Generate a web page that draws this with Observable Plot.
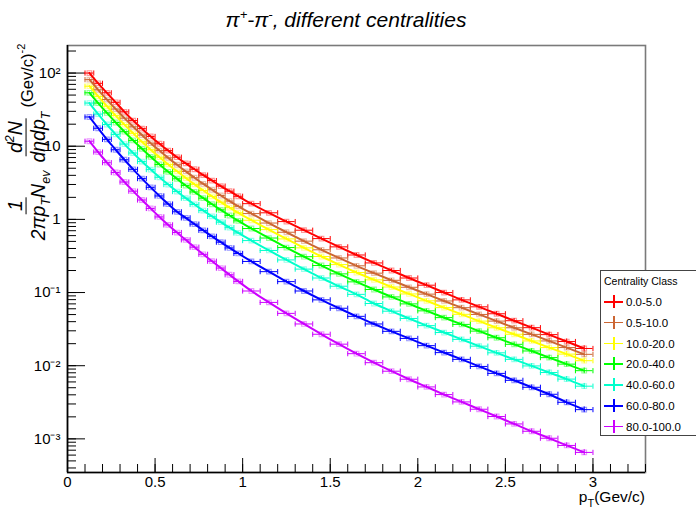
<!DOCTYPE html>
<html><head><meta charset="utf-8">
<script src="https://cdn.jsdelivr.net/npm/d3@7"></script>
<script src="https://cdn.jsdelivr.net/npm/@observablehq/plot@0.6"></script>
<style>
body{margin:0;background:#fff;font-family:"Liberation Sans",Arial,sans-serif;color:#000}
#wrap{position:relative;width:696px;height:515px;overflow:hidden;background:#fff}
#title{height:38px;text-align:center;font-style:italic;font-size:21px;line-height:40px;padding-right:4px;box-sizing:border-box}
#title sup{font-size:13px;vertical-align:8px;line-height:0}
#chart svg{display:block}
#ylabel{position:absolute;left:27px;top:144px;transform:translate(-50%,-50%) rotate(-90deg);white-space:nowrap;font-size:19.5px;font-style:italic}
.frac{display:inline-flex;flex-direction:column;align-items:center;vertical-align:middle;margin:0 1px}
.num{border-bottom:1.6px solid #000;padding:0 3px 1px 3px;line-height:1.05}
.den{padding:1px 3px 0 3px;line-height:1.1}
#ylabel sub{font-size:12.5px;vertical-align:-5px;line-height:0}
#ylabel sup{font-size:12.5px;vertical-align:8px;line-height:0}
.unit{font-style:normal;font-size:16.5px;vertical-align:middle}
.unit sup{font-size:11px!important}
#xlabel{position:absolute;right:51px;top:488px;font-size:15.5px;white-space:nowrap}
#xlabel sub{font-size:11px;vertical-align:-5px;line-height:0}
#legend{position:absolute;left:600px;top:270px;width:110px;height:166px;background:#fff;border:1px solid #444;box-sizing:border-box;font-size:11.5px}
#legend .lt{position:absolute;left:3px;top:4px;font-size:10.5px}
#legend .row{position:absolute;left:0;height:14px;width:100px}
#legend .h{position:absolute;left:3px;top:6px;width:19px;height:1.5px}
#legend .v{position:absolute;left:12px;top:0;width:1.5px;height:13px}
#legend .tx{position:absolute;left:25px;top:0px;line-height:14px}
</style></head><body>
<div id="wrap">
  <div id="title">π<sup>+</sup>-π<sup>-</sup>, different centralities</div>
  <div id="chart"></div>
  <div id="ylabel"><span class="frac"><span class="num">1</span><span class="den">2πp<sub>T</sub>N<sub>ev</sub></span></span><span class="frac"><span class="num">d<sup>2</sup>N</span><span class="den">dηdp<sub>T</sub></span></span><span class="unit">(Gev/c)<sup>-2</sup></span></div>
  <div id="xlabel">p<sub>T</sub>(Gev/c)</div>
  <div id="legend"><div class="lt">Centrality Class</div></div>
</div>
<script>
// ---- data ----
const pt = [0.125,0.175,0.225,0.275,0.325,0.375,0.425,0.475,0.525,0.575,0.625,0.675,0.725,0.775,0.825,0.875,0.925,0.975,
            1.05,1.15,1.25,1.35,1.45,1.55,1.65,1.75,1.85,1.95,2.05,2.15,2.25,2.35,2.45,2.55,2.65,2.75,2.85,2.95];
const ptHalfWidth = [0.025,0.025,0.025,0.025,0.025,0.025,0.025,0.025,0.025,0.025,0.025,0.025,0.025,0.025,0.025,0.025,0.025,0.025,
            0.05,0.05,0.05,0.05,0.05,0.05,0.05,0.05,0.05,0.05,0.05,0.05,0.05,0.05,0.05,0.05,0.05,0.05,0.05,0.05];
const relErr = [0.02,0.02,0.02,0.02,0.02,0.02,0.025,0.025,0.025,0.025,0.03,0.03,0.03,0.03,0.03,0.035,0.035,0.035,
            0.04,0.04,0.04,0.045,0.045,0.05,0.05,0.05,0.055,0.055,0.06,0.06,0.065,0.065,0.07,0.07,0.075,0.08,0.085,0.09];
const classes = ["0.0-5.0","0.5-10.0","10.0-20.0","20.0-40.0","40.0-60.0","60.0-80.0","80.0-100.0"];
const colors  = ["#ff0000","#cc6633","#ffff00","#00ff00","#00ffcc","#0000ff","#cc00ff"];
const yield_0_5 = [100,72.4,53.7,39.8,29.5,22.4,17.4,13.6,10.8,8.71,7.08,5.82,4.84,4.03,3.39,2.85,2.43,2.07,
  1.64,1.23,0.933,0.711,0.546,0.421,0.326,0.254,0.200,0.158,0.126,0.100,0.0794,0.0638,0.0513,0.0412,0.0331,0.0266,0.0214,0.0172];
const yield_5_10 = [81.3,59.0,43.4,32.2,24.2,18.4,14.2,11.0,8.71,6.93,5.58,4.53,3.71,3.05,2.54,2.12,1.78,1.51,
  1.20,0.891,0.667,0.504,0.384,0.297,0.232,0.184,0.147,0.118,0.0951,0.0767,0.0621,0.0502,0.0407,0.0330,0.0268,0.0218,0.0177,0.0143];
const yield_10_20 = [66.1,48.0,35.2,26.2,19.7,15.0,11.5,8.95,7.08,5.64,4.54,3.68,3.01,2.48,2.06,1.72,1.45,1.23,
  0.973,0.724,0.541,0.408,0.311,0.241,0.188,0.149,0.119,0.0957,0.0771,0.0622,0.0504,0.0407,0.0330,0.0269,0.0218,0.0177,0.0144,0.0117];
const yield_20_40 = [53.7,38.9,28.5,21.1,15.8,12.0,9.23,7.16,5.62,4.47,3.59,2.90,2.37,1.95,1.61,1.35,1.13,0.955,
  0.750,0.556,0.412,0.309,0.234,0.180,0.140,0.110,0.0871,0.0700,0.0562,0.0454,0.0367,0.0297,0.0241,0.0196,0.0159,0.0129,0.0105,0.00855];
const yield_40_60 = [38.9,27.5,19.8,14.5,10.7,8.07,6.17,4.79,3.76,2.99,2.40,1.95,1.60,1.32,1.10,0.916,0.771,0.652,
  0.513,0.376,0.279,0.209,0.158,0.122,0.0944,0.0708,0.0556,0.0442,0.0353,0.0284,0.0229,0.0185,0.0150,0.0122,0.00993,0.00807,0.00656,0.00525];
const yield_60_80 = [25.1,17.6,12.4,8.95,6.53,4.83,3.61,2.74,2.09,1.62,1.27,1.05,0.861,0.708,0.586,0.488,0.407,0.342,
  0.266,0.193,0.141,0.105,0.0794,0.0610,0.0473,0.0372,0.0295,0.0236,0.0188,0.0151,0.0122,0.00977,0.00785,0.00631,0.00507,0.00407,0.00316,0.00251];
const yield_80_100 = [11.7,8.32,5.96,4.37,3.24,2.43,1.84,1.41,1.08,0.841,0.661,0.525,0.417,0.333,0.268,0.216,0.175,0.142,
  0.105,0.0733,0.0519,0.0372,0.0269,0.0197,0.0146,0.0110,0.00841,0.00653,0.00513,0.00403,0.00320,0.00254,0.00202,0.00160,0.00127,0.00102,0.000813,0.000653];
const series = [yield_0_5,yield_5_10,yield_10_20,yield_20_40,yield_40_60,yield_60_80,yield_80_100];
const xMajor = [0,0.5,1,1.5,2,2.5,3];
const xMinor = d3.range(0,34).map(i=>i/10);
const yMajor = [100,10,1,0.1,0.01,0.001];
const yMajorLabel = {100:"10²",10:"10",1:"1",0.1:"10⁻¹",0.01:"10⁻²",0.001:"10⁻³"};
const yDomain = [3.47e-4, 238];
const xDomain = [0, 3.3];

// ---- build ----
const rows = [];
series.forEach((s,i)=>s.forEach((v,j)=>rows.push({
  cls: classes[i], pt: pt[j], lo: pt[j]-ptHalfWidth[j], hi: pt[j]+ptHalfWidth[j],
  y: v, ylo: v*(1-relErr[j]), yhi: v*(1+relErr[j])})));
const yMinor = [];
for (let e=-4; e<=2; e++) for (let m=1; m<=9; m++) { const v=m*Math.pow(10,e); if (v>=yDomain[0] && v<=yDomain[1]) yMinor.push(v); }

const W=696, H=477, mL=67, mR=51, mT=7, mB=43;
const iw = W-mL-mR, ih = H-mT-mB;
const cap = {draw(ctx, size){ const r=Math.sqrt(size/Math.PI); ctx.moveTo(0,-r); ctx.lineTo(0,r); }};

const plot = Plot.plot({
  width: W, height: H, marginLeft: mL, marginRight: mR, marginTop: mT, marginBottom: mB,
  style: {fontFamily: "Liberation Sans, Arial, sans-serif", fontSize: "15px", background: "white", overflow: "visible"},
  x: {domain: xDomain, ticks: xMajor, tickSize: 0, tickPadding: 4, tickFormat: d=>String(d), label: null},
  y: {type: "log", domain: yDomain, ticks: yMajor, tickSize: 0, tickPadding: 7, tickFormat: d=>yMajorLabel[d] ?? "", label: null},
  color: {domain: classes, range: colors},
  marks: [
    Plot.frame({stroke: "#7a7a7a", strokeWidth: 1.6}),
    Plot.tickX(xMinor, {x: d=>d, insetTop: ih-8, stroke: "black", strokeWidth: 1}),
    Plot.tickX(xMajor, {x: d=>d, insetTop: ih-14, stroke: "black", strokeWidth: 1}),
    Plot.tickY(yMinor, {y: d=>d, insetRight: iw-9, stroke: "black", strokeWidth: 1}),
    Plot.tickY(yMajor, {y: d=>d, insetRight: iw-18, stroke: "black", strokeWidth: 1}),
    Plot.ruleY(rows, {y: "y", x1: "lo", x2: "hi", stroke: "cls", strokeWidth: 1}),
    Plot.ruleX(rows, {x: "pt", y1: "ylo", y2: "yhi", stroke: "cls", strokeWidth: 1}),
    Plot.dot(rows, {x: "lo", y: "y", symbol: cap, r: 2.6, stroke: "cls", strokeWidth: 1}),
    Plot.dot(rows, {x: "hi", y: "y", symbol: cap, r: 2.6, stroke: "cls", strokeWidth: 1}),
    Plot.dot(rows, {x: "pt", y: "y", symbol: "square", r: 2.6, stroke: "cls", strokeOpacity: 0.4, strokeWidth: 1.2}),
    Plot.line(rows, {x: "pt", y: "y", z: "cls", stroke: "cls", strokeWidth: 2, curve: "monotone-x"}),
    Plot.ruleX([xDomain[0]], {stroke: "black", strokeWidth: 1.6}),
    Plot.ruleY([yDomain[0]], {stroke: "black", strokeWidth: 1.6})
  ]
});
document.getElementById("chart").appendChild(plot);

// legend
const leg = document.getElementById("legend");
classes.forEach((c,i)=>{
  const r = document.createElement("div");
  r.className = "row";
  r.style.top = (24 + i*20.8) + "px";
  r.innerHTML = `<div class="h" style="background:${colors[i]}"></div><div class="v" style="background:${colors[i]}"></div><div class="tx">${c}</div>`;
  leg.appendChild(r);
});
</script>
</body></html>
